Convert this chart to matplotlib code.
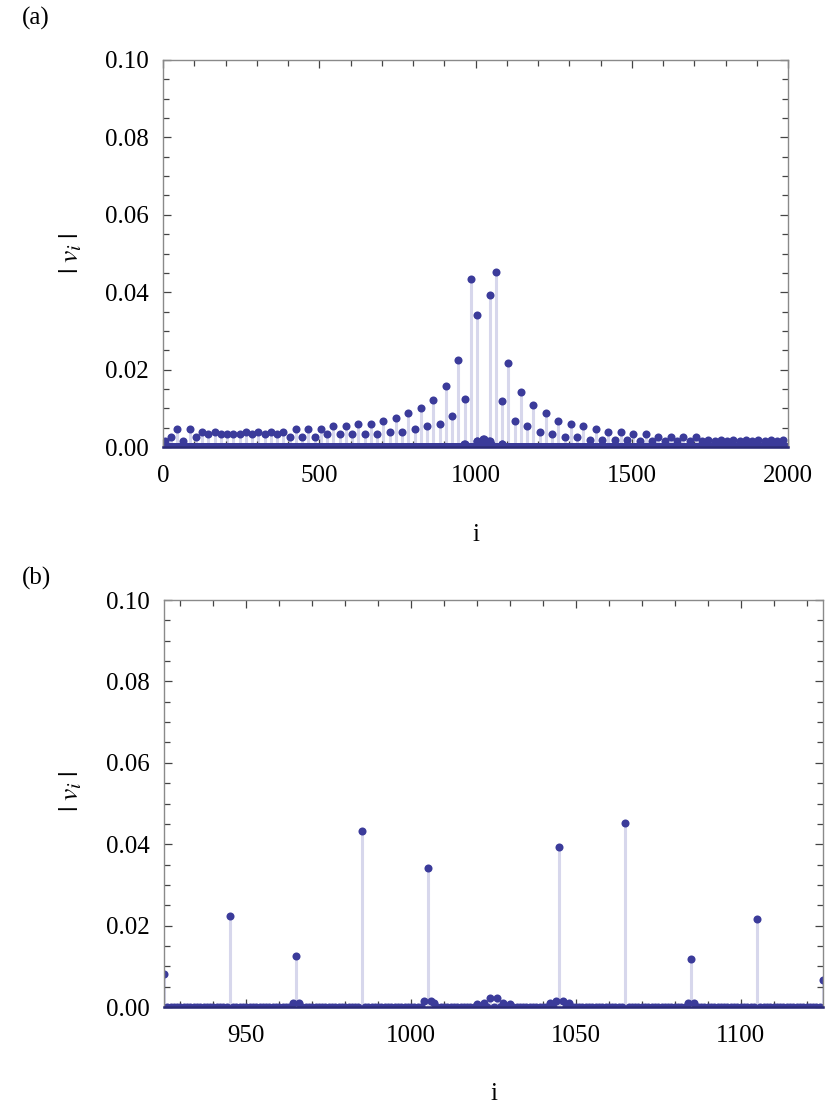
import numpy as np
import matplotlib
matplotlib.use('Agg')
import matplotlib.pyplot as plt
from matplotlib.ticker import MultipleLocator, FormatStrFormatter

plt.rcParams['font.family'] = ['Liberation Serif', 'DejaVu Serif']
plt.rcParams['mathtext.fontset'] = 'stix'

###
# DATA
###
N_SITES = 2000
# sites carrying the main amplitude (every 20th site)
PEAK_SITES = list(range(5, 2000, 20))
PEAK_VALUES = [
    0.0015, 0.0026, 0.0047, 0.0016, 0.0047, 0.0026, 0.0040, 0.0033, 0.0040, 0.0033,
    0.0033, 0.0033, 0.0033, 0.0040, 0.0033, 0.0040, 0.0033, 0.0040, 0.0033, 0.0040,
    0.0026, 0.0047, 0.0026, 0.0047, 0.0026, 0.0047, 0.0033, 0.0053, 0.0033, 0.0053,
    0.0033, 0.0059, 0.0033, 0.0059, 0.0033, 0.0067, 0.0040, 0.0074, 0.0040, 0.0088,
    0.0047, 0.0102, 0.0053, 0.0122, 0.0059, 0.0157, 0.0081, 0.0224, 0.0125, 0.0433,
    0.0342, 0.0000, 0.0394, 0.0453, 0.0119, 0.0217, 0.0066, 0.0143, 0.0053, 0.0109,
    0.0040, 0.0088, 0.0033, 0.0067, 0.0026, 0.0059, 0.0026, 0.0053, 0.0019, 0.0047,
    0.0019, 0.0040, 0.0019, 0.0040, 0.0019, 0.0033, 0.0016, 0.0033, 0.0016, 0.0026,
    0.0016, 0.0026, 0.0016, 0.0026, 0.0016, 0.0026, 0.0016, 0.0019, 0.0016, 0.0019,
    0.0016, 0.0019, 0.0016, 0.0019, 0.0016, 0.0019, 0.0016, 0.0019, 0.0016, 0.0019,
]
# small side amplitudes near the centre
SMALL_SITES = [964, 966, 1004, 1006, 1007, 1020, 1022, 1024, 1026, 1028, 1030,
               1042, 1044, 1046, 1048, 1084, 1086]
SMALL_VALUES = [0.0009, 0.0009, 0.0015, 0.0015, 0.0009, 0.0008, 0.0009, 0.0021,
                0.0021, 0.0009, 0.0008, 0.0009, 0.0015, 0.0015, 0.0009, 0.0009, 0.0009]

sites = np.arange(1, N_SITES + 1)
amp = np.zeros(N_SITES)
amp[np.array(PEAK_SITES) - 1] = PEAK_VALUES
amp[np.array(SMALL_SITES) - 1] = SMALL_VALUES

DOT = '#3b3b9a'
STEM = '#d7d7ec'
FRAME = '#8a8a8a'
FS = 18

fig = plt.figure(figsize=(8.31, 11.19), dpi=100)
ax_a = fig.add_axes([163/831, 1-447/1119, 625/831, 387/1119])
ax_b = fig.add_axes([164/831, 1-1007/1119, 659/831, 407/1119])

def draw(ax, xlim, xmaj, xmin):
    nz = amp > 0
    ax.vlines(sites[nz], 0, amp[nz], color=STEM, lw=2.2, zorder=1)
    ax.plot(sites, amp, 'o', ms=5.8, color=DOT, mec='none', zorder=2)
    ax.axhline(0, color='#2a2a78', lw=1.8, zorder=3, clip_on=False)
    ax.set_xlim(*xlim)
    ax.set_ylim(0, 0.1)
    ax.xaxis.set_major_locator(MultipleLocator(xmaj))
    ax.xaxis.set_minor_locator(MultipleLocator(xmin))
    ax.yaxis.set_major_locator(MultipleLocator(0.02))
    ax.yaxis.set_minor_locator(MultipleLocator(0.005))
    ax.yaxis.set_major_formatter(FormatStrFormatter('%.2f'))
    ax.tick_params(which='both', direction='in', top=True, right=True,
                   color='#444444', width=0.9)
    ax.tick_params(which='major', length=6, labelsize=FS)
    ax.tick_params(which='minor', length=4)
    ax.tick_params(axis='y', pad=10)
    ax.tick_params(axis='x', pad=13)
    for s in ax.spines.values():
        s.set_color(FRAME)
        s.set_linewidth(1.0)
    ax.set_xlabel('i', fontsize=FS)
    ax.set_ylabel(r'$|\;v_{i}\;|$', fontsize=FS + 2)

draw(ax_a, (0, 2000), 500, 100)
draw(ax_b, (925, 1125), 50, 10)

ax_a.xaxis.set_label_coords(0.5, -(524-447)/387)
ax_b.xaxis.set_label_coords(0.5, -(1083-1007)/407)
ax_a.yaxis.set_label_coords(-(163-84)/625, 0.5)
ax_b.yaxis.set_label_coords(-(164-84)/659, 0.53)

fig.text(22/831, 1-18/1119, '(a)', fontsize=FS, va='center', ha='left')
fig.text(22/831, 1-578/1119, '(b)', fontsize=FS, va='center', ha='left')

plt.savefig('out.png', dpi=100)
